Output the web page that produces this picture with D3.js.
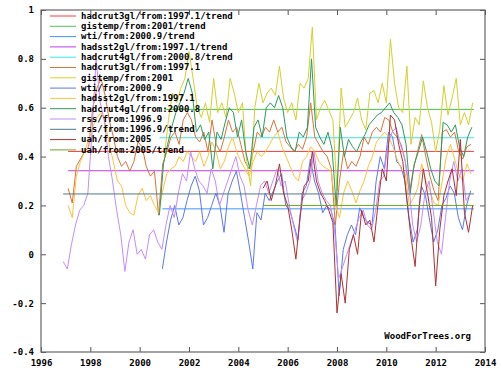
<!DOCTYPE html>
<html>
<head>
<meta charset="utf-8">
<script src="https://cdn.jsdelivr.net/npm/d3@7"></script>
<style>
  body { margin: 0; background: #fff; }
  text { font-family: "DejaVu Sans Mono", monospace; font-weight: bold; font-size: 9px; fill: #000; }
</style>
</head>
<body>
<div id="chart"></div>
<script>
// monthly-ish series, sampled every 2 months from each start year
const step = 1 / 6;

const hadcrut3Start = 1997.1;
const hadcrut3 = [0.27,0.21,0.36,0.39,0.42,0.44,0.60,0.68,0.72,0.65,0.55,0.48,
  0.40,0.36,0.38,0.34,0.38,0.46,0.44,0.36,0.32,0.34,0.16,0.37,
  0.42,0.48,0.50,0.45,0.55,0.58,0.55,0.48,0.46,0.50,0.42,0.55,
  0.45,0.42,0.48,0.55,0.50,0.52,0.45,0.38,0.35,0.42,0.50,0.48,
  0.52,0.50,0.55,0.50,0.52,0.46,0.44,0.42,0.45,0.43,0.48,0.62,
  0.48,0.45,0.42,0.40,0.35,0.12,0.30,0.42,0.35,0.38,0.36,0.40,
  0.48,0.45,0.50,0.52,0.50,0.56,0.55,0.50,0.48,0.45,0.38,0.25,
  0.35,0.42,0.49,0.40,0.32,0.26,0.22,0.50,0.51,0.48,0.50,0.42,
  0.39,0.44,0.45];

const gistempStart = 2001.0;
const gistemp = [0.40,0.55,0.66,0.62,0.68,0.72,0.83,0.72,0.60,0.56,0.62,0.54,
  0.72,0.58,0.62,0.56,0.72,0.66,0.58,0.62,0.38,0.28,0.60,0.70,
  0.62,0.66,0.68,0.65,0.77,0.64,0.58,0.62,0.55,0.70,0.68,0.72,
  0.93,0.55,0.60,0.63,0.59,0.55,0.26,0.68,0.52,0.55,0.58,0.64,
  0.55,0.51,0.66,0.67,0.62,0.70,0.62,0.88,0.70,0.60,0.58,0.77,
  0.45,0.56,0.53,0.71,0.60,0.54,0.42,0.51,0.69,0.57,0.64,0.72,
  0.53,0.58,0.53,0.62];

const wtiStart = 2000.92;
const wti = [-0.06,0.05,0.14,0.20,0.12,0.15,0.22,0.28,0.32,0.26,0.12,0.15,
  0.20,0.25,0.20,0.09,0.25,0.30,0.34,0.25,0.15,0.05,-0.06,0.17,
  0.14,0.25,0.22,0.26,0.30,0.33,0.20,0.18,0.12,0.06,0.25,0.28,
  0.39,0.30,0.25,0.17,0.20,0.18,0.12,-0.17,0.02,0.08,0.12,0.08,
  0.19,0.15,0.13,0.12,0.30,0.40,0.35,0.50,0.48,0.38,0.36,0.30,
  0.15,0.05,0.10,0.28,0.24,0.14,0.05,0.10,0.20,0.23,0.28,0.25,
  0.15,0.10,0.20,0.26];

const hadsst2Start = 1997.1;
const hadsst2 = [0.20,0.15,0.32,0.38,0.42,0.47,0.52,0.56,0.58,0.54,0.45,0.38,
  0.30,0.28,0.20,0.17,0.16,0.24,0.27,0.22,0.24,0.20,0.17,0.26,
  0.33,0.35,0.36,0.40,0.38,0.42,0.40,0.38,0.42,0.36,0.40,0.46,
  0.42,0.35,0.38,0.44,0.48,0.42,0.38,0.35,0.32,0.38,0.42,0.40,
  0.42,0.45,0.48,0.50,0.44,0.40,0.36,0.32,0.30,0.38,0.40,0.44,
  0.42,0.38,0.36,0.35,0.34,0.20,0.15,0.25,0.30,0.26,0.21,0.26,
  0.30,0.36,0.40,0.46,0.48,0.50,0.48,0.44,0.39,0.35,0.33,0.20,
  0.23,0.27,0.37,0.30,0.26,0.21,0.20,0.30,0.40,0.45,0.39,0.33,
  0.30,0.37,0.33];

const hadcrut4Start = 2000.8;
const hadcrut4 = [0.16,0.37,0.45,0.52,0.58,0.62,0.66,0.72,0.66,0.50,0.53,0.47,
  0.50,0.35,0.50,0.47,0.54,0.60,0.58,0.48,0.55,0.42,0.35,0.52,
  0.55,0.48,0.60,0.62,0.60,0.65,0.60,0.48,0.44,0.42,0.50,0.48,
  0.52,0.80,0.52,0.48,0.45,0.50,0.43,0.20,0.52,0.40,0.47,0.44,
  0.42,0.46,0.49,0.53,0.55,0.57,0.58,0.60,0.62,0.58,0.56,0.53,
  0.45,0.25,0.37,0.42,0.48,0.42,0.35,0.30,0.28,0.54,0.53,0.50,
  0.53,0.44,0.40,0.48,0.52];

const rssStart = 1996.9;
const rss = [-0.03,-0.06,0.04,0.12,0.18,0.20,0.25,0.50,0.80,0.62,0.55,0.40,
  0.30,0.18,0.08,-0.07,0.05,0.10,0.00,0.02,-0.02,0.08,0.10,0.05,
  0.02,0.12,0.20,0.15,0.25,0.33,0.30,0.42,0.35,0.30,0.28,0.25,
  0.35,0.30,0.20,0.25,0.30,0.35,0.40,0.32,0.28,0.18,0.12,0.20,
  0.28,0.30,0.25,0.30,0.35,0.28,0.30,0.20,0.12,0.05,0.22,0.25,
  0.30,0.42,0.30,0.25,0.22,0.20,0.10,-0.10,-0.05,0.00,0.05,0.10,
  0.15,0.18,0.12,0.10,0.18,0.30,0.32,0.45,0.50,0.52,0.45,0.40,
  0.30,0.12,0.05,0.12,0.25,0.30,0.18,0.05,0.00,0.15,0.30,0.38,
  0.30,0.35,0.22,0.25];

const uahStart = 2005.0;
const uah = [0.27,0.30,0.22,0.28,0.37,0.25,0.20,0.10,-0.02,0.15,0.28,0.30,
  0.42,0.30,0.25,0.22,0.18,0.13,-0.24,-0.08,-0.20,0.02,0.08,0.00,
  0.18,0.12,0.14,0.05,0.21,0.35,0.30,0.57,0.55,0.45,0.38,0.22,
  0.07,-0.05,0.20,0.35,0.25,0.15,-0.13,0.10,0.24,0.30,0.35,0.24,
  0.47,0.17,0.09,0.20];

// flat least-squares trends, from start year to the last month
const trendEnd = 2013.55;
const hadcrut3Trend = 0.421;
const gistempTrend = 0.593;
const wtiTrend = 0.186;
const hadsst2Trend = 0.342;
const hadcrut4Trend = 0.477;
const rssTrend = 0.247;
const uahTrend = 0.200;

const legendLabels = [
  'hadcrut3gl/from:1997.1/trend', 'gistemp/from:2001/trend', 'wti/from:2000.9/trend',
  'hadsst2gl/from:1997.1/trend', 'hadcrut4gl/from:2000.8/trend', 'hadcrut3gl/from:1997.1',
  'gistemp/from:2001', 'wti/from:2000.9', 'hadsst2gl/from:1997.1', 'hadcrut4gl/from:2000.8',
  'rss/from:1996.9', 'rss/from:1996.9/trend', 'uah/from:2005', 'uah/from:2005/trend'
];
const colors = ['#ff3c3c', '#4cc84c', '#3c96ff', '#c03cf0', '#3ce4e4', '#d8743c',
  '#d4d02c', '#5a78f0', '#ffc23c', '#2e9a5e', '#c48cff', '#4e7888', '#b03030', '#6aa626'];

const yTicks = [-0.4, -0.2, 0, 0.2, 0.4, 0.6, 0.8, 1];
const xTicks = [1996, 1998, 2000, 2002, 2004, 2006, 2008, 2010, 2012, 2014];

const width = 503, height = 376;
const margin = { top: 10, right: 18, bottom: 24, left: 41 };

const svg = d3.select('#chart').append('svg')
    .attr('width', width)
    .attr('height', height);

const x = d3.scaleLinear().domain([1996, 2014]).range([margin.left, width - margin.right]);
const y = d3.scaleLinear().domain([-0.4, 1]).range([height - margin.bottom, margin.top]);

const toPoints = (start, vals) => vals.map((v, i) => [start + i * step, v]);
const trendPts = (start, v) => [[start, v], [trendEnd, v]];

// same order as the legend (and drawing order)
const layers = [
  trendPts(hadcrut3Start, hadcrut3Trend),
  trendPts(gistempStart, gistempTrend),
  trendPts(wtiStart, wtiTrend),
  trendPts(hadsst2Start, hadsst2Trend),
  trendPts(hadcrut4Start, hadcrut4Trend),
  toPoints(hadcrut3Start, hadcrut3),
  toPoints(gistempStart, gistemp),
  toPoints(wtiStart, wti),
  toPoints(hadsst2Start, hadsst2),
  toPoints(hadcrut4Start, hadcrut4),
  toPoints(rssStart, rss),
  trendPts(rssStart, rssTrend),
  toPoints(uahStart, uah),
  trendPts(uahStart, uahTrend)
];

const line = d3.line().x(d => x(d[0])).y(d => y(d[1]));

svg.append('g').selectAll('path')
    .data(layers)
    .enter().append('path')
    .attr('d', line)
    .attr('fill', 'none')
    .attr('stroke', (d, i) => colors[i])
    .attr('stroke-width', 1);

// legend (no box, lines pass through it like in gnuplot)
const legend = svg.append('g').selectAll('g')
    .data(legendLabels)
    .enter().append('g')
    .attr('transform', (d, i) => 'translate(50,' + (16 + i * 10.3) + ')');
legend.append('line')
    .attr('x1', 0).attr('x2', 26)
    .attr('stroke', (d, i) => colors[i])
    .attr('stroke-width', 1);
legend.append('text')
    .attr('x', 31).attr('dy', '0.32em')
    .text(d => d);

// axes with inward ticks on all four sides
const fmt = d => String(+d.toFixed(1));
const axisStyle = g => {
    g.select('.domain').remove();
    g.selectAll('.tick line').attr('stroke', '#555');
    g.selectAll('.tick text').attr('font-family', null).attr('font-size', null);
};
svg.append('g')
    .attr('transform', 'translate(' + margin.left + ',0)')
    .call(d3.axisLeft(y).tickValues(yTicks).tickSize(-5).tickPadding(7).tickFormat(fmt))
    .call(axisStyle);
svg.append('g')
    .attr('transform', 'translate(' + (width - margin.right) + ',0)')
    .call(d3.axisRight(y).tickValues(yTicks).tickSize(-5).tickFormat(''))
    .call(axisStyle);
svg.append('g')
    .attr('transform', 'translate(0,' + (height - margin.bottom) + ')')
    .call(d3.axisBottom(x).tickValues(xTicks).tickSize(-5).tickPadding(8).tickFormat(d3.format('d')))
    .call(axisStyle);
svg.append('g')
    .attr('transform', 'translate(0,' + margin.top + ')')
    .call(d3.axisTop(x).tickValues(xTicks).tickSize(-5).tickFormat(''))
    .call(axisStyle);

svg.append('rect')
    .attr('x', margin.left).attr('y', margin.top)
    .attr('width', width - margin.left - margin.right)
    .attr('height', height - margin.top - margin.bottom)
    .attr('fill', 'none')
    .attr('stroke', '#666')
    .attr('stroke-width', 1.2);

svg.append('text')
    .attr('x', 471).attr('y', 339)
    .attr('text-anchor', 'end')
    .text('WoodForTrees.org');
</script>
</body>
</html>
